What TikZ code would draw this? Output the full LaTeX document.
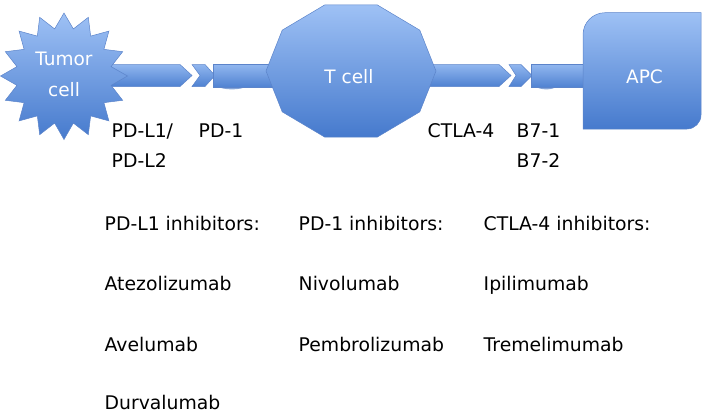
\documentclass[tikz,border=0pt]{standalone}
\usepackage{fontspec}
\setmainfont{DejaVu Sans}
\definecolor{topblue}{RGB}{158,193,245}
\definecolor{botblue}{RGB}{70,122,205}
\definecolor{edgeblue}{RGB}{92,132,202}
\definecolor{shadowblue}{RGB}{80,125,200}
\begin{document}
\begin{tikzpicture}[x=1pt,y=-1pt,
  cellshape/.style={draw=edgeblue, line width=0.5pt, top color=topblue, bottom color=botblue},
  barshape/.style={draw=edgeblue, line width=0.5pt, top color=topblue!85!botblue, bottom color=botblue!90!topblue},
  bump/.style={fill=shadowblue, fill opacity=0.7, draw=none},
  whitelabel/.style={text=white, font=\fontsize{18.5}{22}\selectfont, anchor=base, inner sep=0pt},
  label/.style={text=black, font=\fontsize{18.8}{22}\selectfont, anchor=base west, inner sep=0pt}]
\useasboundingbox (0,0) rectangle (704,415);

% receptor bars (behind cells)
\path[barshape] (105,64.5) -- (180,64.5) -- (192,75.5) -- (180,86.5) -- (105,86.5) -- cycle;
\path[bump] (216,86) .. controls (224,90.5) and (240,90.5) .. (248,86) -- cycle;
\path[barshape] (192,64.5) -- (205,64.5) -- (215,75.5) -- (205,86.5) -- (192,86.5) -- (200,75.5) -- cycle;
\path[barshape] (213,64.5) rectangle (285,87.5);
\path[barshape] (415,64.5) -- (499,64.5) -- (511,75.5) -- (499,86.5) -- (415,86.5) -- cycle;
\path[bump] (534,86) .. controls (541,90.5) and (552,90.5) .. (558,86) -- cycle;
\path[barshape] (509,64.5) -- (521,64.5) -- (532,75.5) -- (521,86.5) -- (509,86.5) -- (516,75.5) -- cycle;
\path[barshape] (531,64.5) rectangle (590,87.5);

% tumor cell star
\path[cellshape] (64,13) \foreach \k in {1,...,31}{
  -- ({64+(isodd(\k)?48:63.5)*cos(90-\k*11.25)}, {76-(isodd(\k)?48:63.5)*sin(90-\k*11.25)}) } -- cycle;

% T cell decagon
\path[cellshape] (436,71) \foreach \k in {1,...,9}{
  -- ({351+85*cos(\k*36)}, {71-69.5*sin(\k*36)}) } -- cycle;

% APC
\path[cellshape] (583,129) -- (583,34.7) .. controls (583,22.6) and (592.9,12.7) .. (605,12.7)
  -- (701,12.7) -- (701,115) .. controls (701,122.7) and (694.7,129) .. (687,129) -- cycle;

% labels in cells
\node[whitelabel] (tumor) at (64,65.7) {Tumor};
\node[whitelabel] (tumor2) at (64,96.5) {cell};
\node[whitelabel] (tcell) at (349,83.3) {T cell};
\node[whitelabel] (apc) at (644.5,83.3) {APC};

% molecule labels
\node[label] (pdl1) at (111.5,137) {PD-L1/};
\node[label] (pdl2) at (111.5,167) {PD-L2};
\node[label] (pd1) at (198.5,137) {PD-1};
\node[label] (ctla4) at (427.5,137) {CTLA-4};
\node[label] (b71) at (516.5,137) {B7-1};
\node[label] (b72) at (516.5,167) {B7-2};

% inhibitors
\node[label] (h1) at (104.5,230) {PD-L1 inhibitors:};
\node[label] (a1) at (104.5,290.7) {Atezolizumab};
\node[label] (a2) at (104.5,351.7) {Avelumab};
\node[label] (a3) at (104.5,409.5) {Durvalumab};
\node[label] (h2) at (298.5,230) {PD-1 inhibitors:};
\node[label] (b1) at (298.5,290.7) {Nivolumab};
\node[label] (b2) at (298.5,351.7) {Pembrolizumab};
\node[label] (h3) at (483.5,230) {CTLA-4 inhibitors:};
\node[label] (c1) at (483.5,290.7) {Ipilimumab};
\node[label] (c2) at (483.5,351.7) {Tremelimumab};
\end{tikzpicture}
\end{document}
